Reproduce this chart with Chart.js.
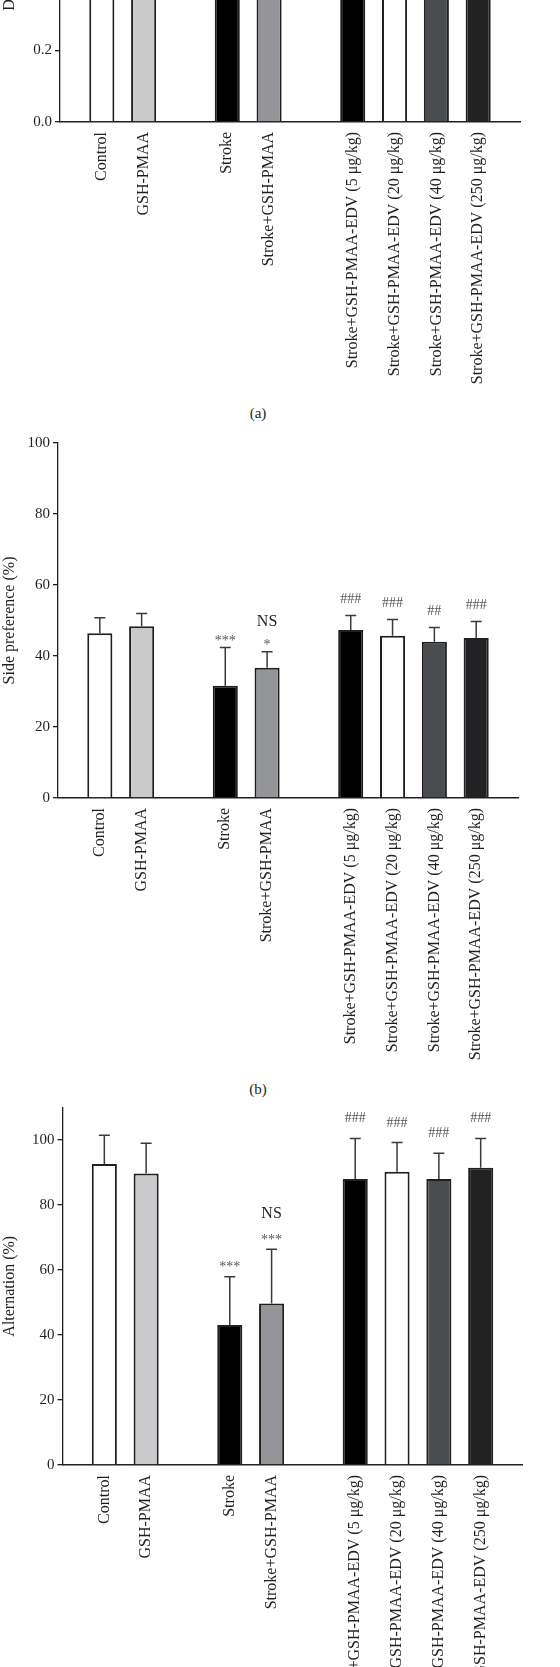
<!DOCTYPE html>
<html>
<head>
<meta charset="utf-8">
<script src="https://cdn.jsdelivr.net/npm/chart.js@4"></script>
<style>
  body { margin: 0; background: #fff; width: 560px; height: 1667px; overflow: hidden; position: relative; font-family: "Liberation Serif", serif; color: #231f20; }
  .panel { position: absolute; left: 0; }
  .cap { position: absolute; left: 0; width: 516px; text-align: center; font-size: 15px; line-height: 18px; }
</style>
</head>
<body>
<div class="panel" style="top:-255px"><canvas id="chartA" width="560" height="655"></canvas></div>
<div class="cap" style="top:404px">(a)</div>
<div class="panel" style="top:425px"><canvas id="chartB" width="560" height="655"></canvas></div>
<div class="cap" style="top:1080px">(b)</div>
<div class="panel" style="top:1090px"><canvas id="chartC" width="560" height="600"></canvas></div>
<script>
// groups of bars, a blank slot goes between them
const groups = [
  ['Control', 'GSH-PMAA'],
  ['Stroke', 'Stroke+GSH-PMAA'],
  ['Stroke+GSH-PMAA-EDV (5 μg/kg)', 'Stroke+GSH-PMAA-EDV (20 μg/kg)',
   'Stroke+GSH-PMAA-EDV (40 μg/kg)', 'Stroke+GSH-PMAA-EDV (250 μg/kg)']
];

// (a) only the bottom of this panel is on the page
const discMean = [0.78, 0.76, 0.46, 0.52, 0.72, 0.74, 0.71, 0.75];
const discSD   = [0.08, 0.07, 0.09, 0.10, 0.08, 0.07, 0.08, 0.07];
const discSig  = [[], [], [], [], [], [], [], []];

// (b) side preference
const sideMean = [46.4, 48.4, 31.6, 36.7, 47.3, 45.7, 44.0, 45.1];
const sideSD   = [4.4, 3.6, 10.8, 4.5, 4.1, 4.6, 4.0, 4.6];
const sideSig  = [[], [], ['***'], ['NS', '*'], ['###'], ['###'], ['##'], ['###']];

// (c) alternation
const altMean = [92.6, 89.7, 43.1, 49.7, 88.0, 90.2, 88.0, 91.5];
const altSD   = [8.9, 9.3, 14.8, 16.7, 12.5, 9.0, 7.9, 9.0];
const altSig  = [[], [], ['***'], ['NS', '***'], ['###'], ['###'], ['###'], ['###']];

const barColors = ['#ffffff', '#c9cacc', '#000000', '#939598', '#000000', '#ffffff', '#4a4d50', '#222224'];
const ink = '#231f20';

Chart.defaults.font.family = '"Liberation Serif", "Times New Roman", serif';
Chart.defaults.color = ink;

// spread the 8 values over slots with a blank between groups
function slotted(values, blank) {
  const out = [blank];
  let k = 0;
  groups.forEach(g => {
    g.forEach(() => out.push(values[k++]));
    out.push(blank);
  });
  return out;
}

const errorBars = {
  id: 'errorBars',
  afterDatasetsDraw(chart, args, opts) {
    const ctx = chart.ctx;
    const y = chart.scales.y;
    const ds = chart.data.datasets[0];
    const meta = chart.getDatasetMeta(0);
    ctx.save();
    meta.data.forEach((bar, i) => {
      const v = ds.data[i];
      if (v == null) return;
      const top = y.getPixelForValue(v + ds.sd[i]);
      ctx.strokeStyle = '#3a3a3a';
      ctx.lineWidth = 1.5;
      ctx.beginPath();
      ctx.moveTo(bar.x, bar.y);
      ctx.lineTo(bar.x, top);
      ctx.moveTo(bar.x - 5.5, top);
      ctx.lineTo(bar.x + 5.5, top);
      ctx.stroke();

      // significance marks, bottom line first
      const lines = ds.sig[i];
      let base = null;
      ctx.textAlign = 'center';
      ctx.textBaseline = 'alphabetic';
      for (let j = lines.length - 1; j >= 0; j--) {
        const t = lines[j];
        if (base === null) {
          base = top - (t[0] === '#' ? opts.hashGap : opts.starGap);
        } else {
          base -= opts.lineStep;
        }
        if (t === 'NS') {
          ctx.font = '16px "Liberation Serif", serif';
          ctx.fillStyle = ink;
        } else {
          ctx.font = '14px "Liberation Serif", serif';
          ctx.fillStyle = '#555';
        }
        ctx.fillText(t, bar.x, base);
      }
    });
    ctx.restore();
  }
};

function makeChart(id, cfg) {
  const labels = slotted(groups.flat(), '');
  new Chart(document.getElementById(id), {
    type: 'bar',
    data: {
      labels: labels,
      datasets: [{
        data: slotted(cfg.mean, null),
        sd: slotted(cfg.sd, null),
        sig: slotted(cfg.sig, []),
        backgroundColor: slotted(barColors, '#fff'),
        borderColor: ink,
        borderWidth: 2,
        barPercentage: 0.6,
        categoryPercentage: 1.0
      }]
    },
    options: {
      responsive: false,
      animation: false,
      devicePixelRatio: 1,
      layout: { padding: { top: cfg.padTop, right: cfg.padRight, left: 0, bottom: 0 } },
      plugins: {
        legend: { display: false },
        tooltip: { enabled: false },
        errorBars: cfg.marks
      },
      scales: {
        x: {
          offset: false,
          afterFit: s => { s.height = cfg.xHeight; },
          grid: { display: false, drawTicks: false },
          border: { color: ink, width: 1.5 },
          ticks: {
            autoSkip: false,
            minRotation: 90,
            maxRotation: 90,
            padding: 10,
            font: { size: 16 },
            color: ink
          }
        },
        y: {
          min: 0,
          max: cfg.max,
          afterFit: s => { s.width = cfg.yWidth; },
          grid: { drawOnChartArea: false, tickLength: 5, color: ink, lineWidth: 1.3 },
          border: { color: ink, width: 1.3 },
          ticks: {
            stepSize: cfg.step,
            includeBounds: false,
            padding: 3,
            font: { size: 15 },
            color: ink,
            callback: cfg.fmt
          },
          title: {
            display: true,
            text: cfg.title,
            font: { size: 16 },
            color: ink,
            padding: { top: 0, bottom: 0 }
          }
        }
      }
    },
    plugins: [errorBars]
  });
}

makeChart('chartA', {
  mean: discMean, sd: discSD, sig: discSig,
  max: 1.0, step: 0.2, fmt: v => v.toFixed(1),
  title: 'Discrimination index',
  padTop: 19, padRight: 40, yWidth: 60, xHeight: 278,
  marks: { starGap: 3, hashGap: 12.5, lineStep: 23 }
});

makeChart('chartB', {
  mean: sideMean, sd: sideSD, sig: sideSig,
  max: 100, step: 20, fmt: v => v,
  title: 'Side preference (%)',
  padTop: 18, padRight: 42, yWidth: 58, xHeight: 282,
  marks: { starGap: 2.5, hashGap: 12.5, lineStep: 23 }
});

makeChart('chartC', {
  mean: altMean, sd: altSD, sig: altSig,
  max: 110, step: 20, fmt: v => v,
  title: 'Alternation (%)',
  padTop: 17.5, padRight: 37.5, yWidth: 62.5, xHeight: 225,
  marks: { starGap: 5.5, hashGap: 16, lineStep: 26 }
});
</script>
</body>
</html>
